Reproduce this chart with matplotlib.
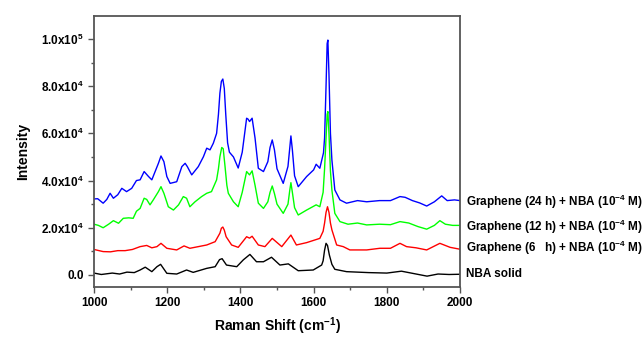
import matplotlib
matplotlib.use("Agg")
import math
import matplotlib.pyplot as plt
from matplotlib.ticker import MultipleLocator, FuncFormatter

plt.rcParams['font.family'] = ['Liberation Sans', 'DejaVu Sans']
plt.rcParams['font.weight'] = 'bold'
plt.rcParams['mathtext.default'] = 'regular'

blue_x = [1000,1010,1025,1035,1044,1053,1065,1076,1089,1103,
          1116,1126,1137,1149,1158,1167,1176,1183,1191,1199,
          1208,1226,1240,1249,1255,1267,1285,1299,1308,1317,
          1326,1335,1340,1344,1348,1352,1356,1360,1365,1370,1381,1394,1405,1417,
          1421,1425,1432,1440,1449,1463,1475,1481,1487,1493,1500,1517,1530,
          1535,1538,1542,1548,1558,1581,1600,1607,1617,1627,1630,1634,1637,1639,
          1642,1646,1650,1658,1672,1690,1720,1745,1780,1810,1836,
          1850,1870,1890,1909,1930,1950,1965,1985,2000]
blue_y = [32200,32300,30400,32000,34600,32500,34000,36700,35300,36700,
          40000,40300,43800,41700,40300,43800,47300,50400,48000,41700,
          38800,39500,45900,47300,45900,42400,45900,50100,53700,53000,
          55800,60000,68000,77000,82000,83000,79000,68000,56000,52000,50000,45300,52000,66400,
          66000,65000,66400,58000,45200,43800,48000,54000,57200,53000,45000,38800,46000,
          54000,58900,53000,42000,37400,41700,44500,46900,45200,51700,58000,80000,98000,99500,
          85000,60000,48700,36000,31800,30400,31500,31000,31500,31500,33200,
          32900,31500,30500,29200,31000,33500,31500,31800,31500]

green_x = [1000,1012,1025,1040,1053,1067,1080,1095,1107,1116,
           1126,1137,1144,1153,1162,1176,1183,1191,1203,1217,
           1231,1244,1253,1262,1276,1294,1308,1321,1335,1340,1344,
           1349,1353,1358,1363,1367,1381,1394,1405,1417,1425,1432,1440,
           1449,1463,1475,1481,1487,1493,1500,1517,1530,1535,1538,1542,1548,1558,
           1581,1607,1617,1626,1630,1634,1637,1639,1642,1646,1650,1658,1672,
           1694,1720,1745,1780,1810,1836,1860,1885,1909,1930,
           1945,1960,1980,2000]
green_y = [21500,21000,20000,21500,23000,21900,24000,24200,24000,27000,
           28200,32500,32000,29700,31800,35300,37400,34600,28900,27500,
           29700,33200,32500,28900,31000,33200,34600,35300,40300,45000,50100,
           54000,53500,46000,38000,34600,31000,28900,35000,43800,42400,44100,38000,
           30400,28200,31000,35000,37700,34500,30000,26100,30000,36000,39100,35000,28500,25400,
           27500,29700,28900,35000,45000,58000,68000,69200,60000,44000,36000,26100,22600,
           21500,22000,21200,21500,21300,22600,22000,20500,19400,21000,
           23000,21500,21000,21000]

red_x = [1000,1025,1045,1065,1085,1105,1126,1144,1158,1172,
         1183,1199,1226,1246,1262,1285,1308,1331,1344,1348,1352,
         1356,1361,1376,1394,1417,1425,1432,1449,1467,1487,1513,
         1538,1553,1581,1617,1626,1630,1634,1638,1642,1646,1650,1663,
         1681,1699,1745,1781,1810,1836,1854,1880,1909,1945,
         1973,2000]
red_y = [10800,9900,9800,10300,10300,10800,12000,12500,11500,12000,
         13400,11300,10600,12300,11300,12000,12700,14100,17700,19800,20300,
         19000,16200,12700,11700,16200,15600,16400,12700,12000,15500,12000,
         16900,12700,13700,15500,18500,22000,26500,28900,26500,22000,19100,12700,
         12000,10600,10600,11300,11300,13400,12000,11500,10600,13400,
         11700,10900]

black_x = [1000,1020,1050,1070,1090,1110,1126,1140,1158,1172,
           1182,1199,1226,1253,1271,1308,1331,1343,1350,1362,
           1390,1408,1426,1444,1463,1485,1508,1531,1558,1599,
           1622,1626,1630,1634,1638,1643,1650,1658,1690,1750,1800,1840,
           1870,1910,1940,1970,2000]
black_y = [800,200,800,400,1200,1000,2100,3300,1400,3500,
           4500,700,400,2100,1100,2800,3500,6500,6900,4200,
           3500,6400,8700,5600,5600,7500,4200,4700,1800,2100,
           4200,6000,10500,13400,12500,8500,4500,2400,1400,1000,800,1600,
           700,-500,400,200,300]

labels = [r'Graphene (24 h) + NBA (10$^{-4}$ M)',
          r'Graphene (12 h) + NBA (10$^{-4}$ M)',
          r'Graphene (6   h) + NBA (10$^{-4}$ M)',
          'NBA solid']
label_y = [30900, 20300, 11400, 400]

fig = plt.figure(figsize=(6.44, 3.37), dpi=100)
ax = fig.add_axes([94/644, 1-287/337, (460-94)/644, (287-16)/337])

series = [(blue_x, blue_y, '#0000ff'), (green_x, green_y, '#00ff00'),
          (red_x, red_y, '#ff0000'), (black_x, black_y, '#000000')]
for xs, ys, c in series:
    ax.plot(xs, ys, color=c, lw=1.0)

for t, yv in zip(labels, label_y):
    ax.text(2016, yv, t, fontsize=8.5, fontweight='bold', va='center',
            ha='left', clip_on=False)

ax.set_xlim(1000, 2000)
ax.set_ylim(-5100, 109700)
ax.xaxis.set_major_locator(MultipleLocator(200))
ax.xaxis.set_minor_locator(MultipleLocator(100))
ax.yaxis.set_major_locator(MultipleLocator(20000))
ax.yaxis.set_minor_locator(MultipleLocator(10000))

def yfmt(v, pos):
    if abs(v) < 1:
        return '0.0'
    e = int(math.floor(math.log10(abs(v))))
    m = v / 10**e
    return r'%.1fx10$^{%d}$' % (m, e)

ax.yaxis.set_major_formatter(FuncFormatter(yfmt))
ax.tick_params(axis='both', which='major', direction='out', length=4,
               width=1, labelsize=8.5, color='#555555')
ax.tick_params(axis='both', which='minor', direction='out', length=2.5,
               width=1, color='#555555')
for lab in ax.get_xticklabels() + ax.get_yticklabels():
    lab.set_fontweight('bold')
for s in ax.spines.values():
    s.set_color('#555555')
    s.set_linewidth(1.3)

ax.set_xlabel(r'Raman Shift (cm$^{-1}$)', fontsize=10, fontweight='bold', labelpad=4)
ax.set_ylabel('Intensity', fontsize=10, fontweight='bold', labelpad=8)

fig.savefig('out.png', dpi=100)
